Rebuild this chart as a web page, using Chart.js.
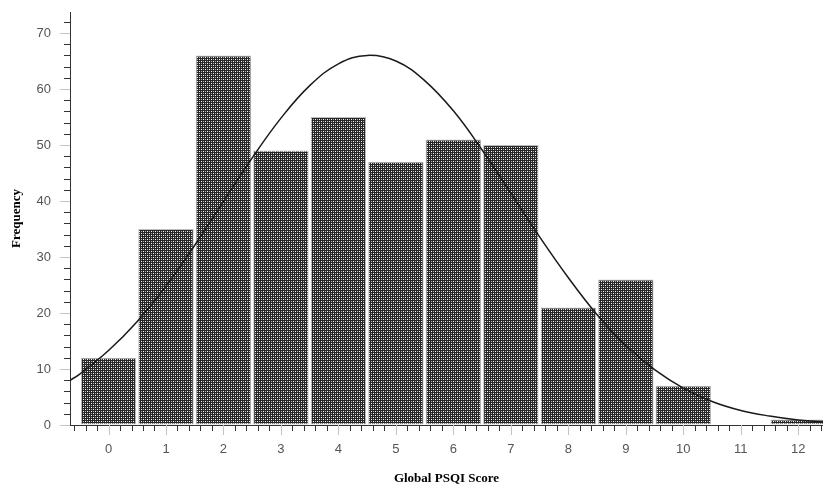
<!DOCTYPE html>
<html>
<head>
<meta charset="utf-8">
<script src="https://cdn.jsdelivr.net/npm/chart.js@4/dist/chart.umd.min.js"></script>
<style>
  body { margin: 0; background: #fff; }
  canvas { display: block; }
</style>
</head>
<body>
<canvas id="histChart" width="823" height="486"></canvas>
<script>
// Histogram of Global PSQI Score
const scores = [0, 1, 2, 3, 4, 5, 6, 7, 8, 9, 10, 11, 12];
const frequency = [12, 35, 66, 49, 55, 47, 51, 50, 21, 26, 7, 0, 1];

// normal curve
const curveX = [-0.7, -0.5, 0, 0.5, 1, 1.5, 2, 2.5, 3, 3.5, 4, 4.5, 5, 5.5, 6, 6.5, 7, 7.5, 8, 8.5, 9, 9.5, 10, 10.5, 11, 11.5, 12, 12.5];
const curveY = [7.8, 9.1, 13.3, 18.5, 24.8, 32.1, 39.9, 47.7, 54.8, 60.6, 64.5, 66, 65.0, 61.5, 56.1, 49.1, 41.4, 33.6, 26.3, 19.7, 14.2, 9.9, 6.6, 4.2, 2.6, 1.6, 0.9, 0.5];

const xTickLabels = ["0", "1", "2", "3", "4", "5", "6", "7", "8", "9", "10", "11", "12"];
const yTickLabels = ["0", "10", "20", "30", "40", "50", "60", "70"];

const canvas = document.getElementById("histChart");
const ctx = canvas.getContext("2d");

// crosshatch fill for the bars
const tile = document.createElement("canvas");
tile.width = 4;
tile.height = 4;
const tctx = tile.getContext("2d");
tctx.fillStyle = "#262626";
tctx.fillRect(0, 0, 4, 4);
tctx.fillStyle = "#ffffff";
tctx.fillRect(1, 1, 1, 1);
tctx.fillRect(3, 3, 1, 1);
tctx.fillStyle = "#b0b0b0";
tctx.fillRect(3, 1, 1, 1);
tctx.fillRect(1, 3, 1, 1);
const hatch = ctx.createPattern(tile, "repeat");

function isMajor(v, step) 
{
  return Math.abs(v / step - Math.round(v / step)) < 1e-6;
}

// draw the short tick marks (major light grey, minor dark)
const tickMarks = {
  id: "tickMarks",
  afterDraw(chart) 
  {
    const c = chart.ctx;
    const xs = chart.scales.x;
    const ys = chart.scales.y;
    c.save();
    c.lineWidth = 1;
    xs.ticks.forEach(t => 
    {
      const major = isMajor(t.value, 1);
      const px = Math.round(xs.getPixelForValue(t.value)) + 0.5;
      c.strokeStyle = major ? "#c4c4c4" : "#333";
      c.beginPath();
      c.moveTo(px, xs.top);
      c.lineTo(px, xs.top + (major ? 10 : 6));
      c.stroke();
    });
    ys.ticks.forEach(t => 
    {
      const major = isMajor(t.value, 10);
      const py = Math.round(ys.getPixelForValue(t.value)) + 0.5;
      c.strokeStyle = major ? "#c4c4c4" : "#333";
      c.beginPath();
      c.moveTo(ys.right, py);
      c.lineTo(ys.right - (major ? 10 : 6), py);
      c.stroke();
    });
    c.restore();
  }
};

const labelFont = { family: "Liberation Sans", size: 13 };
const titleFont = { family: "Liberation Serif", size: 13, weight: "bold", lineHeight: 1 };

new Chart(ctx, 
{
  type: "bar",
  data: 
  {
    datasets: [
    {
      type: "line",
      data: curveX.map((x, i) => ({ x: x, y: curveY[i] })),
      borderColor: "#1a1a1a",
      borderWidth: 1.5,
      pointRadius: 0,
      tension: 0.4,
      fill: false,
      order: 0
    },
    {
      type: "bar",
      data: scores.map((s, i) => ({ x: s, y: frequency[i] })),
      backgroundColor: hatch,
      borderColor: "#bdbdbd",
      borderWidth: 1,
      borderSkipped: false,
      // bar ruler follows the 0.2 minor tick spacing, so 5 x 0.965 fills one unit
      barPercentage: 4.825,
      categoryPercentage: 1,
      order: 1
    }]
  },
  options: 
  {
    responsive: false,
    animation: false,
    devicePixelRatio: 1,
    layout: { padding: { top: 12, right: 0, left: 0, bottom: 0 } },
    plugins: 
    {
      legend: { display: false },
      tooltip: { enabled: false }
    },
    scales: 
    {
      x: 
      {
        type: "linear",
        offset: false,
        min: -0.67,
        max: 12.43,
        afterFit(scale) 
        {
          scale.height = 61;
          scale.paddingLeft = 0;
          scale.paddingRight = 0;
        },
        afterBuildTicks(scale) 
        {
          const t = [];
          for (let i = -3; i <= 62; i++) t.push({ value: Math.round(i * 2) / 10 });
          scale.ticks = t;
        },
        ticks: 
        {
          autoSkip: false,
          maxRotation: 0,
          padding: 7,
          color: "#555",
          font: labelFont,
          callback: v => isMajor(v, 1) ? xTickLabels[Math.round(v)] : ""
        },
        grid: { offset: false, drawOnChartArea: false, tickLength: 10, tickColor: "rgba(0,0,0,0)" },
        border: { display: true, color: "#333", width: 1 },
        title: 
        {
          display: true,
          text: "Global PSQI Score",
          color: "#000",
          font: titleFont,
          padding: { top: 0, bottom: 1 }
        }
      },
      y: 
      {
        min: 0,
        max: 73.75,
        afterFit(scale) 
        {
          scale.width = 70;
          scale.paddingTop = 0;
          scale.paddingBottom = 0;
        },
        afterBuildTicks(scale) 
        {
          const t = [];
          for (let v = 0; v <= 72; v += 2) t.push({ value: v });
          scale.ticks = t;
        },
        ticks: 
        {
          autoSkip: false,
          padding: 9,
          color: "#555",
          font: labelFont,
          callback: v => isMajor(v, 10) ? yTickLabels[v / 10] : ""
        },
        grid: { drawOnChartArea: false, tickLength: 10, tickColor: "rgba(0,0,0,0)" },
        border: { display: true, color: "#333", width: 1 },
        title: 
        {
          display: true,
          text: "Frequency",
          color: "#000",
          font: titleFont,
          padding: { top: 10, bottom: 0 }
        }
      }
    }
  },
  plugins: [tickMarks]
});
</script>
</body>
</html>
